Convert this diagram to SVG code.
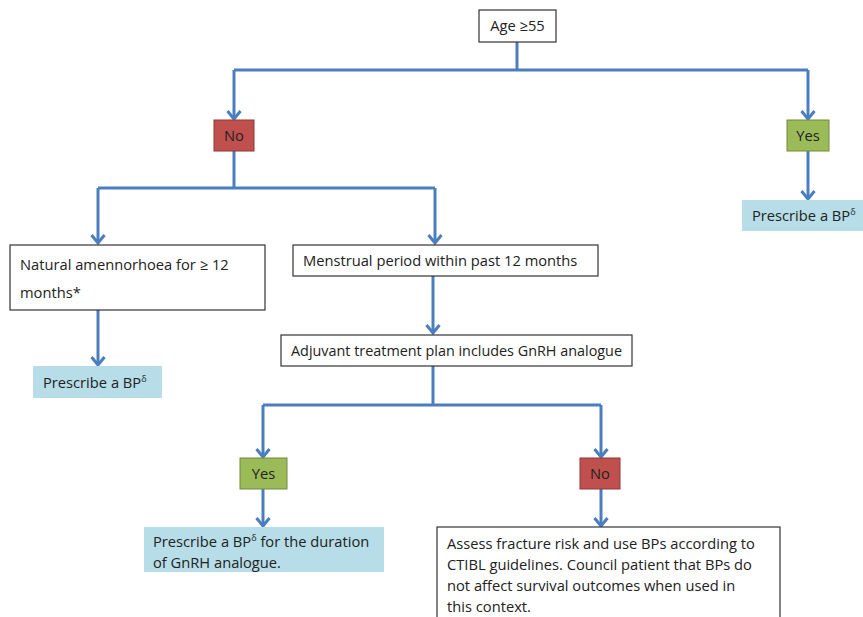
<svg xmlns="http://www.w3.org/2000/svg" width="863" height="617" viewBox="0 0 863 617">
<style>
.ln{fill:none;stroke:#4a7ebf;stroke-width:3}
.bx{fill:#fff;stroke:#333;stroke-width:1.2}
.no{fill:#c0504d;stroke:#8c3836;stroke-width:1}
.yes{fill:#9bbb59;stroke:#71893f;stroke-width:1}
.bp{fill:#b7dee8;stroke:none}
text{font-family:"Open Sans","Liberation Sans",sans-serif;font-size:14.7px;fill:#222}
.c{text-anchor:middle}
</style>
<defs>
<marker id="v" viewBox="0 0 12 16" refX="10" refY="8" markerWidth="12" markerHeight="16" markerUnits="userSpaceOnUse" orient="auto">
<path d="M2,1.5 L10,8 L2,14.5" fill="none" stroke="#4a7ebf" stroke-width="3"/>
</marker>
</defs>
<rect width="863" height="617" fill="#fff"/>
<g id="connectors">
<path class="ln" d="M517,42 V70 M234,70 H808"/>
<path class="ln" d="M234,70 V119" marker-end="url(#v)"/>
<path class="ln" d="M808,70 V119" marker-end="url(#v)"/>
<path class="ln" d="M808,151 V199" marker-end="url(#v)"/>
<path class="ln" d="M234,151 V188 M98,188 H435"/>
<path class="ln" d="M98,188 V243" marker-end="url(#v)"/>
<path class="ln" d="M435,188 V243" marker-end="url(#v)"/>
<path class="ln" d="M98,310 V365" marker-end="url(#v)"/>
<path class="ln" d="M433,276 V333" marker-end="url(#v)"/>
<path class="ln" d="M433,366 V405 M263,405 H601"/>
<path class="ln" d="M263,405 V457" marker-end="url(#v)"/>
<path class="ln" d="M601,405 V457" marker-end="url(#v)"/>
<path class="ln" d="M263,489 V526" marker-end="url(#v)"/>
<path class="ln" d="M601,489 V526" marker-end="url(#v)"/>
</g>
<g id="age"><rect class="bx" x="479" y="10" width="77" height="32"/><text class="c" x="517.5" y="31">Age ≥55</text></g>
<g id="no1"><rect class="no" x="214" y="120" width="40" height="31"/><text class="c" x="234" y="141">No</text></g>
<g id="yes1"><rect class="yes" x="787" y="120" width="42" height="31"/><text class="c" x="808" y="141">Yes</text></g>
<g id="bp1"><rect class="bp" x="742" y="200" width="121" height="31"/><text x="752" y="221">Prescribe a BP<tspan dy="-6" font-size="9">δ</tspan></text></g>
<g id="natural"><rect class="bx" x="10" y="245" width="255" height="65"/><text x="20" y="270">Natural amennorhoea for ≥ 12</text><text x="20" y="298">months*</text></g>
<g id="bp2"><rect class="bp" x="33" y="366" width="129" height="32"/><text x="43" y="388">Prescribe a BP<tspan dy="-6" font-size="9">δ</tspan></text></g>
<g id="menstrual"><rect class="bx" x="293" y="245" width="305" height="31"/><text x="303" y="266">Menstrual period within past 12 months</text></g>
<g id="adjuvant"><rect class="bx" x="281" y="335" width="351" height="31"/><text x="291" y="356" textLength="331" lengthAdjust="spacingAndGlyphs">Adjuvant treatment plan includes GnRH analogue</text></g>
<g id="yes2"><rect class="yes" x="240" y="458" width="47" height="31"/><text class="c" x="263.5" y="479">Yes</text></g>
<g id="no2"><rect class="no" x="580" y="458" width="40" height="31"/><text class="c" x="600" y="479">No</text></g>
<g id="bp3"><rect class="bp" x="144" y="527" width="240" height="45"/><text x="153" y="547">Prescribe a BP<tspan dy="-6" font-size="9">δ</tspan><tspan dy="6"> for the duration</tspan></text><text x="153" y="568">of GnRH analogue.</text></g>
<g id="assess"><rect class="bx" x="437" y="527" width="343" height="95"/><text x="447" y="549">Assess fracture risk and use BPs according to</text><text x="447" y="570">CTIBL guidelines. Council patient that BPs do</text><text x="447" y="591">not affect survival outcomes when used in</text><text x="447" y="612">this context.</text></g>
</svg>
